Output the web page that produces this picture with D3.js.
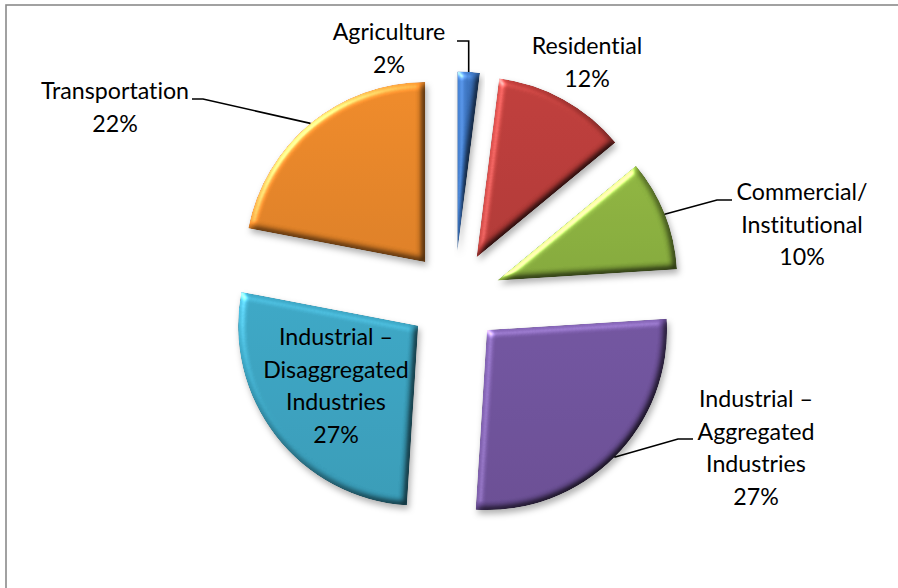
<!DOCTYPE html>
<html>
<head>
<meta charset="utf-8">
<script src="https://cdn.jsdelivr.net/npm/d3@7"></script>
<style>
  html, body { margin: 0; padding: 0; background: #fff; overflow: hidden; }
  svg { display: block; }
  .lbl { font-family: Lato, "Open Sans", sans-serif; font-size: 23.2px; fill: #000;
         font-variant-ligatures: none; font-feature-settings: "liga" 0, "clig" 0; }
</style>
</head>
<body>
<svg id="chart" width="898" height="588"></svg>
<script>
// Energy use share by sector (%), clockwise from 12 o'clock
const categories = [
  "Agriculture",
  "Residential",
  "Commercial/Institutional",
  "Industrial – Aggregated Industries",
  "Industrial – Disaggregated Industries",
  "Transportation"
];
const shares = [2, 12, 10, 27, 27, 22];
const labelLines = [
  ["Agriculture"],
  ["Residential"],
  ["Commercial/", "Institutional"],
  ["Industrial –", "Aggregated", "Industries"],
  ["Industrial –", "Disaggregated", "Industries"],
  ["Transportation"]
];
const sliceColors = ["#3b74c1", "#c03d3a", "#8fb640", "#7254a0", "#3ca8c6", "#f08a28"];

// Layout
const W = 898, H = 588;
const cx = 454.5, cy = 297.5;
const radius = 180;
const explode = 46;
const lineGap = 32.5;

// Label placement: first baseline centre, optional leader (text end -> elbow -> slice rim)
const labelLayout = [
  { x: 389, y: 40, leader: { start: [457, 41], elbowY: 41, vertical: true } },
  { x: 587, y: 54, leader: null },
  { x: 802, y: 200, leader: { start: [732, 200], elbow: [717, 200] } },
  { x: 756, y: 407, leader: { start: [693, 439], elbow: [678, 439] } },
  { x: 336, y: 345, leader: null },
  { x: 115, y: 99, leader: { start: [192, 99], elbow: [203, 99] } }
];

const svg = d3.select("#chart");
const defs = svg.append("defs");

// Bevel + drop shadow
const f = defs.append("filter").attr("id", "bevel")
  .attr("x", "-20%").attr("y", "-20%").attr("width", "140%").attr("height", "140%")
  .attr("color-interpolation-filters", "sRGB");
f.append("feGaussianBlur").attr("in", "SourceAlpha").attr("stdDeviation", 3.5).attr("result", "blur");
const spec = f.append("feSpecularLighting").attr("in", "blur").attr("surfaceScale", 3)
  .attr("specularConstant", 0.45).attr("specularExponent", 35)
  .attr("lighting-color", "#ffffff").attr("result", "spec");
spec.append("feDistantLight").attr("azimuth", 225).attr("elevation", 40);
f.append("feComposite").attr("in", "spec").attr("in2", "SourceAlpha").attr("operator", "in").attr("result", "specIn");
const dif = f.append("feDiffuseLighting").attr("in", "blur").attr("surfaceScale", 4)
  .attr("diffuseConstant", 1).attr("lighting-color", "#ffffff").attr("result", "diff");
dif.append("feDistantLight").attr("azimuth", 225).attr("elevation", 55);
f.append("feComposite").attr("in", "SourceGraphic").attr("in2", "diff").attr("operator", "arithmetic")
  .attr("k1", 1.15).attr("k2", 0).attr("k3", 0).attr("k4", 0).attr("result", "shaded");
f.append("feComposite").attr("in", "shaded").attr("in2", "specIn").attr("operator", "arithmetic")
  .attr("k2", 1).attr("k3", 1).attr("result", "lit");
f.append("feComposite").attr("in", "lit").attr("in2", "SourceAlpha").attr("operator", "in").attr("result", "litIn");
f.append("feGaussianBlur").attr("in", "SourceAlpha").attr("stdDeviation", 3).attr("result", "sblur");
f.append("feOffset").attr("in", "sblur").attr("dx", 2).attr("dy", 4).attr("result", "soff");
f.append("feFlood").attr("flood-color", "#000").attr("flood-opacity", 0.3).attr("result", "flood");
f.append("feComposite").attr("in", "flood").attr("in2", "soff").attr("operator", "in").attr("result", "shadow");
const merge = f.append("feMerge");
merge.append("feMergeNode").attr("in", "shadow");
merge.append("feMergeNode").attr("in", "litIn");

// Gentle top-to-bottom gradient per slice
sliceColors.forEach((c, i) => {
  const g = defs.append("linearGradient").attr("id", "grad" + i)
    .attr("x1", 0).attr("y1", 0).attr("x2", 0).attr("y2", 1);
  g.append("stop").attr("offset", "0%").attr("stop-color", d3.color(c).brighter(0.12));
  g.append("stop").attr("offset", "100%").attr("stop-color", d3.color(c).darker(0.1));
});

// Chart frame
svg.append("rect").attr("x", 6).attr("y", 5).attr("width", W).attr("height", H)
  .attr("fill", "none").attr("stroke", "#8a8a8a").attr("stroke-width", 1.6);

const pie = d3.pie().sort(null).value(d => d);
const arcs = pie(shares);
const arc = d3.arc().innerRadius(0).outerRadius(radius);

const mid = d => (d.startAngle + d.endAngle) / 2;
const offset = d => [Math.sin(mid(d)) * explode, -Math.cos(mid(d)) * explode];

const slices = svg.append("g").attr("transform", `translate(${cx},${cy})`);
slices.selectAll("path").data(arcs).enter().append("path")
  .attr("transform", d => { const o = offset(d); return `translate(${o[0]},${o[1]})`; })
  .attr("d", arc)
  .attr("fill", (d, i) => `url(#grad${i})`)
  .attr("filter", "url(#bevel)");

// Leader lines
const rimPoint = d => {
  const o = offset(d), a = mid(d);
  return [cx + o[0] + Math.sin(a) * radius, cy + o[1] - Math.cos(a) * radius];
};
const leaders = svg.append("g");
arcs.forEach((d, i) => {
  const L = labelLayout[i].leader;
  if (!L) return;
  const rim = rimPoint(d);
  const pts = L.vertical
    ? [L.start, [rim[0], L.elbowY], rim]
    : [L.start, L.elbow, rim];
  leaders.append("path")
    .attr("d", d3.line()(pts))
    .attr("fill", "none").attr("stroke", "#000").attr("stroke-width", 1.6);
});

// Labels
const labels = svg.append("g");
arcs.forEach((d, i) => {
  const lay = labelLayout[i];
  const lines = labelLines[i].concat([d3.format(".0f")(shares[i]) + "%"]);
  const t = labels.append("text").attr("class", "lbl").attr("text-anchor", "middle");
  lines.forEach((s, k) => {
    t.append("tspan").attr("x", lay.x).attr("y", lay.y + k * lineGap).text(s);
  });
});
</script>
</body>
</html>
